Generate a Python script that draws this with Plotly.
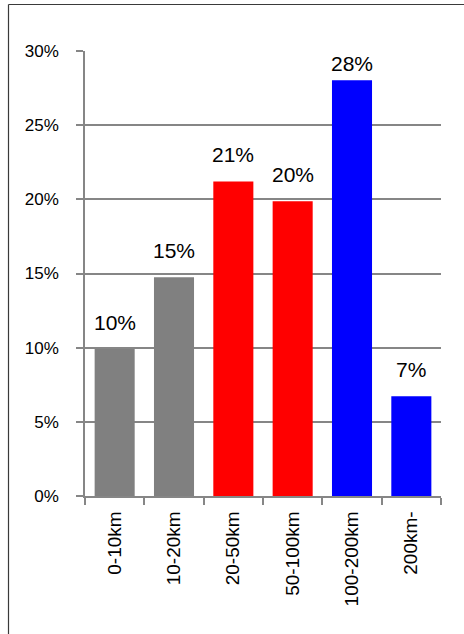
import plotly.graph_objects as go

categories = ["0-10km", "10-20km", "20-50km", "50-100km", "100-200km", "200km-"]
values = [0.0991, 0.1475, 0.2121, 0.1987, 0.2803, 0.0672]
colors = ["#808080", "#808080", "#FF0000", "#FF0000", "#0000FF", "#0000FF"]
y_ticks = [0, 0.05, 0.10, 0.15, 0.20, 0.25, 0.30]
y_tick_labels = ["0%", "5%", "10%", "15%", "20%", "25%", "30%"]

W, H = 464, 634
L, R, T, B = 85, 23, 51, 138
plot_w = W - L - R
plot_h = H - T - B
ymax = 0.30
ppu = plot_h / ymax

fig = go.Figure()
fig.add_trace(go.Bar(
    x=categories, y=values, marker=dict(color=colors, line=dict(width=0)),
    hoverinfo="skip",
))

# data labels: normal gap above bar, clamped below plot top
for c, v in zip(categories, values):
    normal = 13.5
    max_shift = plot_h - 26 - v * ppu
    shift = min(normal, max_shift)
    fig.add_annotation(
        x=c, y=v, text=f"{round(v * 100):.0f}%", showarrow=False,
        yanchor="bottom", yshift=shift,
        font=dict(family="Liberation Sans", size=21, color="black"),
    )

def px_x(p):
    return (p - L) / plot_w

def px_y(p):
    return (H - B - p) / plot_h

# outer chart border (top and left edges visible)
fig.add_shape(type="line", xref="paper", yref="paper",
              x0=px_x(8.5), x1=px_x(470), y0=px_y(4.5), y1=px_y(4.5),
              line=dict(color="#3a3a3a", width=1.2))
fig.add_shape(type="line", xref="paper", yref="paper",
              x0=px_x(8.5), x1=px_x(8.5), y0=px_y(4.5), y1=px_y(640),
              line=dict(color="#3a3a3a", width=1.2))

fig.update_layout(
    width=W, height=H,
    margin=dict(l=L, r=R, t=T, b=B, pad=0),
    paper_bgcolor="white", plot_bgcolor="white",
    bargap=0.325, showlegend=False,
    font=dict(family="Liberation Sans", color="black"),
)
fig.update_xaxes(
    type="category", tickangle=-90, tickson="boundaries",
    ticks="outside", ticklen=7, tickcolor="#868686", tickwidth=1.5,
    showline=True, linecolor="#868686", linewidth=1.5,
    showgrid=False, tickfont=dict(size=19, family="Liberation Sans"),
    ticklabelstandoff=6,
)
fig.update_yaxes(
    range=[0, ymax], tickvals=y_ticks, ticktext=y_tick_labels,
    ticks="outside", ticklen=7, tickcolor="#868686", tickwidth=1.5,
    showline=True, linecolor="#868686", linewidth=1.5,
    showgrid=True, gridcolor="#868686", gridwidth=1.5,
    zeroline=False, tickfont=dict(size=17, family="Liberation Sans"),
    ticklabelstandoff=14,
)

fig.write_html("out.html")
